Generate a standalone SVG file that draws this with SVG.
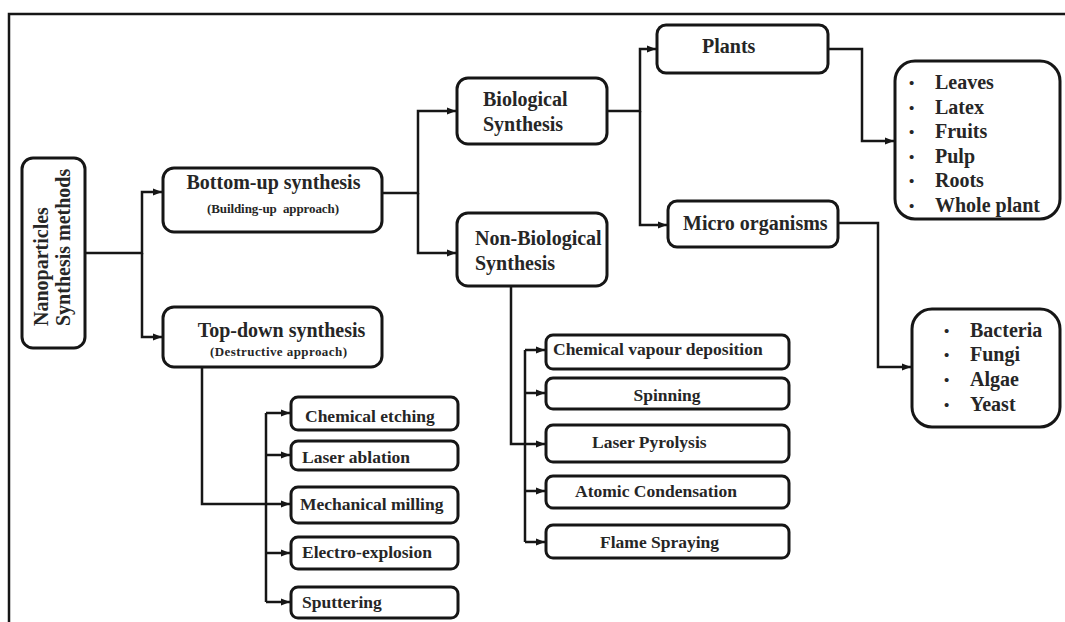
<svg xmlns="http://www.w3.org/2000/svg" width="1065" height="622" viewBox="0 0 1065 622">
<defs>
<style>
.box{fill:#fff;stroke:#161616;stroke-width:3}
.t{font-family:"Liberation Serif","Times New Roman",serif;font-weight:bold;fill:#262626}
.big{font-size:20px}
.mid{font-size:17.5px}
.sm{font-size:13px}
.bul{font-size:15px}
.con{fill:none;stroke:#161616;stroke-width:2.5}
</style>
<marker id="arr" markerUnits="userSpaceOnUse" markerWidth="10" markerHeight="10" refX="9" refY="5" orient="auto">
<path d="M0,1.5 L9,5 L0,8.5 Z" fill="#161616"/>
</marker>
</defs>
<rect width="1065" height="622" fill="#fff"/>
<path d="M9 622 V14 H1065" fill="none" stroke="#161616" stroke-width="2.5"/>

<g id="connectors">
<path class="con" d="M85 253 H142 V192 H162" marker-end="url(#arr)"/>
<path class="con" d="M142 253 V337 H162" marker-end="url(#arr)"/>
<path class="con" d="M382 193 H418 V111 H456" marker-end="url(#arr)"/>
<path class="con" d="M418 193 V253 H456" marker-end="url(#arr)"/>
<path class="con" d="M607 111 H640 V49 H656" marker-end="url(#arr)"/>
<path class="con" d="M640 111 V225 H667" marker-end="url(#arr)"/>
<path class="con" d="M828 49 H862 V141 H894" marker-end="url(#arr)"/>
<path class="con" d="M838 223 H878 V367 H911" marker-end="url(#arr)"/>
<path class="con" d="M511 286 V444 H545" marker-end="url(#arr)"/>
<path class="con" d="M525 350 V542"/>
<path class="con" d="M525 350 H545" marker-end="url(#arr)"/>
<path class="con" d="M525 393 H545" marker-end="url(#arr)"/>
<path class="con" d="M525 491 H545" marker-end="url(#arr)"/>
<path class="con" d="M525 542 H545" marker-end="url(#arr)"/>
<path class="con" d="M202 367 V504 H290" marker-end="url(#arr)"/>
<path class="con" d="M266 413 V602"/>
<path class="con" d="M266 413 H290" marker-end="url(#arr)"/>
<path class="con" d="M266 455 H290" marker-end="url(#arr)"/>
<path class="con" d="M266 553 H290" marker-end="url(#arr)"/>
<path class="con" d="M266 602 H290" marker-end="url(#arr)"/>
</g>

<g id="nano">
<rect class="box" x="22" y="158" width="63" height="190" rx="11"/>
<text class="t big" transform="translate(48,326) rotate(-90)">Nanoparticles</text>
<text class="t big" transform="translate(70,326) rotate(-90)">Synthesis methods</text>
</g>

<g id="bottomup">
<rect class="box" x="163" y="168" width="219" height="64" rx="11"/>
<text class="t big" x="273.5" y="189" text-anchor="middle">Bottom-up synthesis</text>
<text class="t sm" x="273" y="213" text-anchor="middle" xml:space="preserve" textLength="132">(Building-up  approach)</text>
</g>

<g id="topdown">
<rect class="box" x="163" y="307" width="219" height="60" rx="11"/>
<text class="t big" x="281.5" y="337" text-anchor="middle">Top-down synthesis</text>
<text class="t sm" x="278.5" y="356" text-anchor="middle" textLength="137">(Destructive approach)</text>
</g>

<g id="bio">
<rect class="box" x="457" y="78" width="150" height="66" rx="11"/>
<text class="t big" x="483" y="106">Biological</text>
<text class="t big" x="483" y="131">Synthesis</text>
</g>

<g id="nonbio">
<rect class="box" x="457" y="213" width="150" height="73" rx="11"/>
<text class="t big" x="475" y="245">Non-Biological</text>
<text class="t big" x="475" y="270">Synthesis</text>
</g>

<g id="plants">
<rect class="box" x="657" y="25" width="171" height="48" rx="9"/>
<text class="t big" x="702" y="53">Plants</text>
</g>

<g id="micro">
<rect class="box" x="668" y="201" width="170" height="46" rx="9"/>
<text class="t big" x="683" y="230">Micro organisms</text>
</g>

<g id="plantparts">
<rect class="box" x="895" y="61" width="165" height="158" rx="20"/>
<text class="t bul" x="909" y="88">•</text><text class="t big" x="935" y="89">Leaves</text>
<text class="t bul" x="909" y="113">•</text><text class="t big" x="935" y="114">Latex</text>
<text class="t bul" x="909" y="137">•</text><text class="t big" x="935" y="138">Fruits</text>
<text class="t bul" x="909" y="162">•</text><text class="t big" x="935" y="163">Pulp</text>
<text class="t bul" x="909" y="186">•</text><text class="t big" x="935" y="187">Roots</text>
<text class="t bul" x="909" y="211">•</text><text class="t big" x="935" y="212">Whole plant</text>
</g>

<g id="microtypes">
<rect class="box" x="912" y="309" width="148" height="118" rx="20"/>
<text class="t bul" x="944" y="336">•</text><text class="t big" x="970" y="337">Bacteria</text>
<text class="t bul" x="944" y="360">•</text><text class="t big" x="970" y="361">Fungi</text>
<text class="t bul" x="944" y="385">•</text><text class="t big" x="970" y="386">Algae</text>
<text class="t bul" x="944" y="410">•</text><text class="t big" x="970" y="411">Yeast</text>
</g>

<g id="cvd">
<rect class="box" x="546" y="335" width="243" height="34" rx="7"/>
<text class="t mid" x="553" y="355">Chemical vapour deposition</text>
</g>
<g id="spinning">
<rect class="box" x="546" y="378" width="243" height="31" rx="7"/>
<text class="t mid" x="667" y="401" text-anchor="middle">Spinning</text>
</g>
<g id="laserpyrolysis">
<rect class="box" x="546" y="425" width="243" height="37" rx="7"/>
<text class="t mid" x="592" y="448">Laser Pyrolysis</text>
</g>
<g id="atomic">
<rect class="box" x="546" y="476" width="243" height="32" rx="7"/>
<text class="t mid" x="575" y="497">Atomic Condensation</text>
</g>
<g id="flame">
<rect class="box" x="546" y="525" width="243" height="33" rx="7"/>
<text class="t mid" x="600" y="548">Flame Spraying</text>
</g>

<g id="etching">
<rect class="box" x="291" y="397" width="167" height="33" rx="7"/>
<text class="t mid" x="305" y="422">Chemical etching</text>
</g>
<g id="ablation">
<rect class="box" x="291" y="441" width="167" height="29" rx="7"/>
<text class="t mid" x="302" y="463">Laser ablation</text>
</g>
<g id="milling">
<rect class="box" x="291" y="487" width="167" height="36" rx="7"/>
<text class="t mid" x="300" y="510">Mechanical milling</text>
</g>
<g id="explosion">
<rect class="box" x="291" y="537" width="167" height="32" rx="7"/>
<text class="t mid" x="302" y="558">Electro-explosion</text>
</g>
<g id="sputtering">
<rect class="box" x="291" y="587" width="167" height="31" rx="7"/>
<text class="t mid" x="302" y="608">Sputtering</text>
</g>
</svg>
